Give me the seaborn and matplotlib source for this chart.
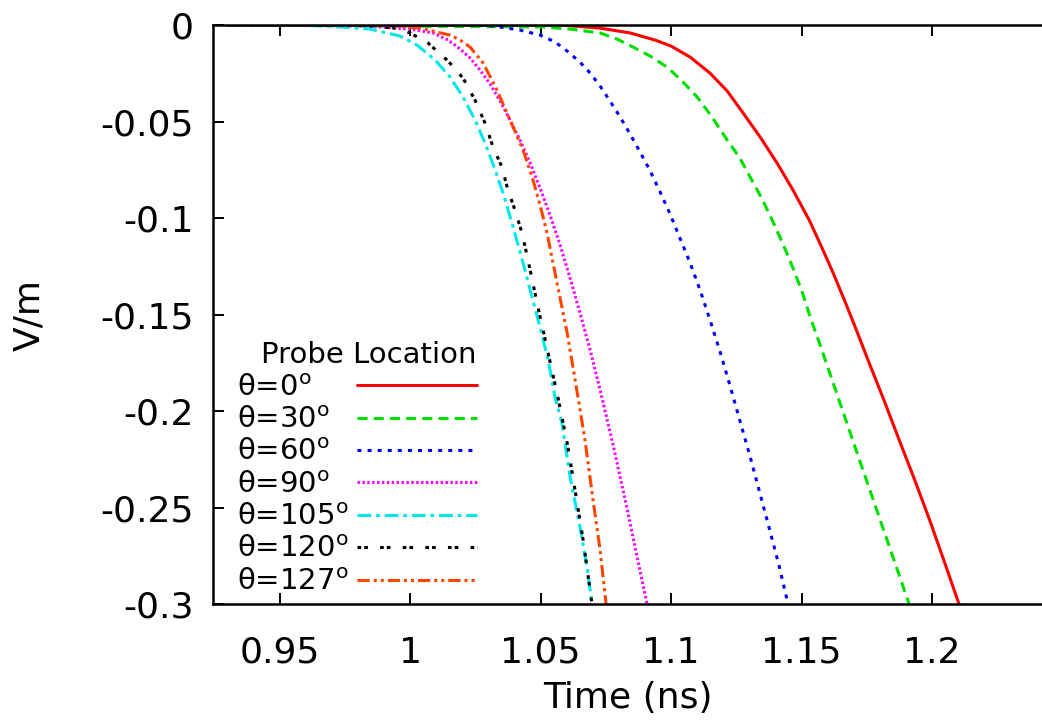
import pandas as pd
import seaborn as sns
import matplotlib.pyplot as plt

# probe curves: time (ns) and field (V/m)
t_000 = [0.93, 1.0575, 1.0728, 1.0843, 1.0939, 1.1, 1.1073, 1.1149, 1.1215, 1.1276, 1.1341, 1.1406, 1.1467,
         1.1529, 1.1575, 1.1621, 1.1667, 1.1713, 1.1762, 1.182, 1.1877, 1.1935, 1.1992, 1.205, 1.2103]
v_000 = [0.0, 0.0, -0.0016, -0.0041, -0.0078, -0.0109, -0.0166, -0.0249, -0.0342, -0.0456, -0.058, -0.0715,
         -0.0855, -0.101, -0.1145, -0.1285, -0.1435, -0.1591, -0.1762, -0.1959, -0.2161, -0.2363, -0.257,
         -0.2793, -0.3]

t_030 = [0.93, 1.051, 1.0613, 1.067, 1.0728, 1.0793, 1.0854, 1.092, 1.0985, 1.1042, 1.11, 1.1157, 1.1215,
         1.1261, 1.1303, 1.1349, 1.1391, 1.1429, 1.1467, 1.1502, 1.1533, 1.1571, 1.1613, 1.1659, 1.1705,
         1.1751, 1.1797, 1.1854, 1.1912]
v_030 = [0.0, -0.001, -0.0021, -0.0031, -0.0041, -0.0073, -0.0114, -0.0161, -0.0218, -0.029, -0.0373,
         -0.0477, -0.0596, -0.0684, -0.0788, -0.0902, -0.1021, -0.1135, -0.1259, -0.1383, -0.1513, -0.1658,
         -0.1824, -0.2005, -0.2187, -0.2368, -0.2549, -0.2772, -0.3]

t_060 = [0.93, 1.0268, 1.0345, 1.0421, 1.0498, 1.0556, 1.0602, 1.0651, 1.069, 1.0728, 1.0766, 1.0805, 1.0843,
         1.0881, 1.092, 1.0958, 1.0996, 1.1034, 1.1073, 1.1111, 1.1149, 1.1188, 1.1226, 1.1264, 1.1303,
         1.1341, 1.1379, 1.1414, 1.1448]
v_060 = [0.0, 0.0, -0.001, -0.0026, -0.0052, -0.0088, -0.0135, -0.0192, -0.0249, -0.0316, -0.0394, -0.0477,
         -0.0565, -0.0658, -0.0756, -0.0865, -0.0979, -0.1104, -0.1233, -0.1373, -0.1528, -0.1694, -0.187,
         -0.2052, -0.2238, -0.243, -0.2622, -0.2803, -0.3]

t_090 = [0.93, 0.9693, 0.9885, 1.0, 1.0088, 1.0146, 1.0192, 1.023, 1.0268, 1.0307, 1.0345, 1.0383, 1.0421,
         1.046, 1.0498, 1.0536, 1.0575, 1.0613, 1.0651, 1.069, 1.0728, 1.0778, 1.0831, 1.0866, 1.0908]
v_090 = [0.0, 0.0, -0.001, -0.0021, -0.0041, -0.0078, -0.0124, -0.0171, -0.0233, -0.0306, -0.0394, -0.0492,
         -0.0596, -0.0715, -0.0845, -0.0984, -0.114, -0.1311, -0.1492, -0.1684, -0.1891, -0.2176, -0.2503,
         -0.2731, -0.3]

t_105 = [0.93, 0.9579, 0.9732, 0.9847, 0.9962, 1.0027, 1.0096, 1.0153, 1.0203, 1.0249, 1.0287, 1.0326, 1.0356,
         1.0387, 1.0433, 1.0467, 1.0498, 1.0529, 1.0556, 1.0582, 1.0613, 1.0651, 1.0678, 1.0697]
v_105 = [0.0, 0.0, -0.001, -0.0021, -0.0057, -0.0104, -0.0181, -0.0269, -0.0373, -0.0492, -0.0611, -0.0751,
         -0.087, -0.101, -0.1233, -0.1409, -0.1565, -0.1736, -0.1933, -0.2062, -0.2342, -0.2601, -0.2808, -0.3]

t_120 = [0.93, 0.9808, 0.9943, 1.0, 1.0069, 1.0146, 1.0203, 1.0249, 1.0287, 1.0318, 1.0352, 1.0375, 1.0402,
         1.0429, 1.0452, 1.049, 1.0529, 1.0567, 1.0602, 1.0632, 1.0663, 1.0697]
v_120 = [0.0, 0.0, -0.0016, -0.0041, -0.0093, -0.0187, -0.0275, -0.0389, -0.0508, -0.0632, -0.0736, -0.0855,
         -0.0959, -0.1078, -0.1218, -0.1461, -0.17, -0.1933, -0.2166, -0.2409, -0.2668, -0.3]

t_127 = [0.93, 0.9885, 1.0038, 1.0153, 1.0192, 1.023, 1.028, 1.0333, 1.0383, 1.0433, 1.0471, 1.0498, 1.0525,
         1.0563, 1.0602, 1.0644, 1.067, 1.0701, 1.0728, 1.0751]
v_127 = [0.0, 0.0, -0.0016, -0.0052, -0.0078, -0.0114, -0.0197, -0.0337, -0.0492, -0.0648, -0.0803, -0.0933,
         -0.1078, -0.1337, -0.1596, -0.1933, -0.215, -0.2461, -0.272, -0.3]

probe_labels = ["θ=0$^{\\rm o}$", "θ=30$^{\\rm o}$", "θ=60$^{\\rm o}$", "θ=90$^{\\rm o}$",
                "θ=105$^{\\rm o}$", "θ=120$^{\\rm o}$", "θ=127$^{\\rm o}$"]
probe_colors = ["#ff0000", "#00e000", "#0000ff", "#ff00ff", "#00e8ee", "#000000", "#ff4500"]
probe_dashes = ["", (3.3, 2.0), (1.3, 2.0), (0.8, 0.8), (4.5, 1.6, 1.2, 1.6),
                (1.2, 1.0, 1.2, 4.0), (4.0, 1.3, 1.0, 1.3, 1.0, 1.3)]

x_ticks = [0.95, 1.0, 1.05, 1.1, 1.15, 1.2]
x_ticklabels = ["0.95", "1", "1.05", "1.1", "1.15", "1.2"]
y_ticks = [0, -0.05, -0.1, -0.15, -0.2, -0.25, -0.3]
y_ticklabels = ["0", "-0.05", "-0.1", "-0.15", "-0.2", "-0.25", "-0.3"]

series = [(t_000, v_000), (t_030, v_030), (t_060, v_060), (t_090, v_090),
          (t_105, v_105), (t_120, v_120), (t_127, v_127)]
frames = []
for lab, (t, v) in zip(probe_labels, series):
    frames.append(pd.DataFrame({"time": t, "field": v, "probe": lab}))
df = pd.concat(frames, ignore_index=True)

sns.set_style("ticks")
plt.rcParams["font.family"] = ["DejaVu Sans"]
plt.rcParams["mathtext.fontset"] = "dejavusans"
plt.rcParams["axes.unicode_minus"] = False
plt.rcParams["text.color"] = "black"
plt.rcParams["axes.labelcolor"] = "black"

fig = plt.figure(figsize=(10.42, 7.26), dpi=100)
fig.patch.set_facecolor("white")
# the right end of the plot is cut off by the image edge
ax = fig.add_axes([0.2044, 0.168, 0.7956, 0.7975])

sns.lineplot(
    data=df, x="time", y="field", hue="probe", style="probe",
    hue_order=probe_labels, style_order=probe_labels,
    palette=dict(zip(probe_labels, probe_colors)),
    dashes=dict(zip(probe_labels, probe_dashes)),
    estimator=None, sort=False, linewidth=2.2, legend=False, ax=ax,
)

ax.set_xlim(0.9245, 1.2421)
ax.set_ylim(-0.3, 0)
ax.set_xticks(x_ticks, labels=x_ticklabels)
ax.set_yticks(y_ticks, labels=y_ticklabels)
ax.tick_params(direction="in", length=8, width=1.4, top=True, right=False,
               labelsize=26, colors="black")
ax.tick_params(axis="y", pad=14)
ax.tick_params(axis="x", pad=23)
for s in ax.spines.values():
    s.set_linewidth(1.8)
    s.set_color("black")
ax.spines["right"].set_visible(False)
ax.set_xlabel("Time (ns)", fontsize=26, labelpad=8)
ax.set_ylabel("V/m", fontsize=26, labelpad=39)

handles = ax.get_lines()[:len(probe_labels)]
leg = ax.legend(handles, probe_labels, title="Probe Location", loc="upper left",
                bbox_to_anchor=(0.029, 0.454), frameon=False, markerfirst=False,
                fontsize=21, title_fontsize=21, handlelength=4.1, handletextpad=0.3,
                labelspacing=0.15, borderpad=0, borderaxespad=0, alignment="right")
for t in leg.get_texts():
    t.set_color("black")
leg.get_title().set_color("black")

# gnuplot-style key: left-justified labels, samples lined up on the right
fig.canvas.draw()
r = fig.canvas.get_renderer()
widths = [t.get_window_extent(r).width for t in leg.get_texts()]
col = leg._legend_handle_box.get_children()[0]
for item, w in zip(col.get_children(), widths):
    item.sep += (max(widths) - w) * 72 / fig.dpi

fig.savefig("out.png", dpi=100, facecolor="white")
